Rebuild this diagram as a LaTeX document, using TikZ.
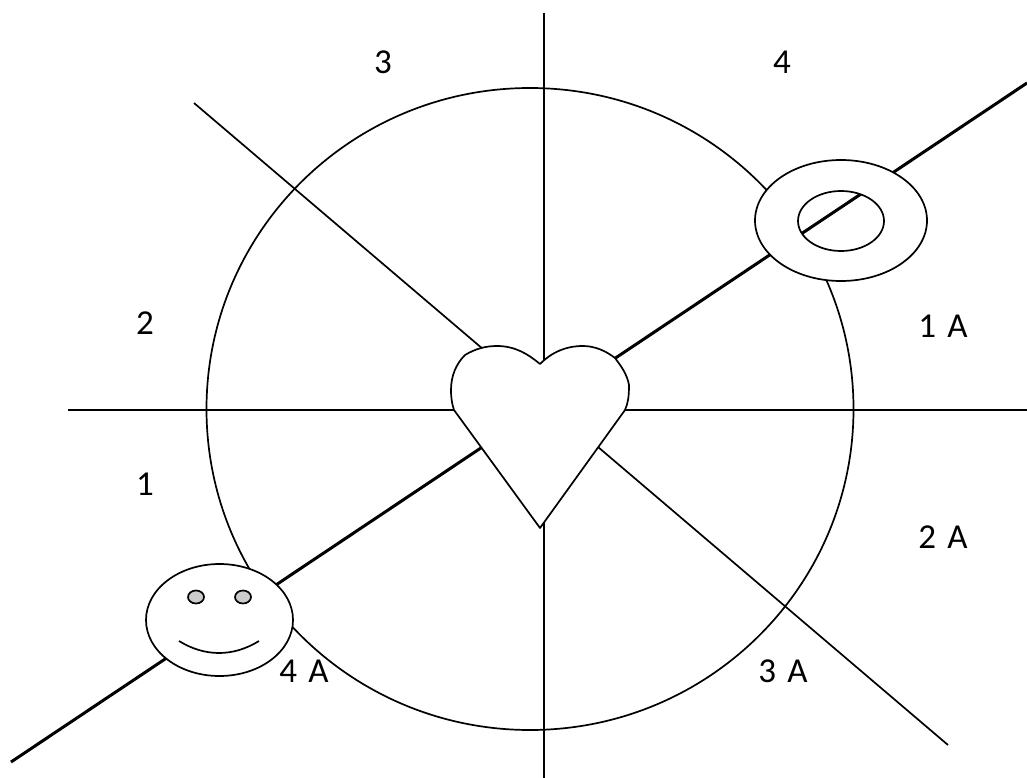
\documentclass[tikz,border=0pt]{standalone}
\usepackage{fontspec}
\setmainfont[WordSpace=1.4]{Carlito}
\tikzset{
  thinline/.style={draw=black,line width=1.7pt},
  thickline/.style={draw=black,line width=3pt},
  shapeline/.style={draw=black,line width=1.7pt,fill=white},
  lbl/.style={inner sep=0pt,font=\fontsize{35}{40}\selectfont,text=black},
}
\begin{document}
\begin{tikzpicture}[x=1pt,y=-1pt]
\useasboundingbox (0,0) rectangle (1027,778);
% free line ends
\coordinate (vtop) at (544,13);
\coordinate (vbot) at (544,778);
\coordinate (hleft) at (68,410);
\coordinate (hright) at (1027,410);
\coordinate (d1a) at (194,103);
\coordinate (d1b) at (948,745);
\coordinate (d2a) at (11,762);
\coordinate (d2b) at (1027,83);
% big circle
\draw[thinline] (530,409) ellipse [x radius=323.5,y radius=321];
% spokes
\draw[thinline] (vtop) -- (vbot);
\draw[thinline] (hleft) -- (hright);
\draw[thinline] (d1a) -- (d1b);
\draw[thickline] (d2a) -- (d2b);
% heart
\draw[shapeline,line join=round] (540,364)
  .. controls (528,354) and (515,346) .. (497,346)
  .. controls (485,346) and (475,349) .. (465,355)
  .. controls (456,364) and (451,376) .. (451,390)
  .. controls (451,398) and (452,404) .. (454,410)
  -- (540,528) -- (625,410)
  .. controls (628,403) and (629,397) .. (629,385)
  .. controls (627,374) and (621,366) .. (615,358)
  .. controls (606,351) and (595,346) .. (583,346)
  .. controls (566,346) and (552,352) .. (540,364) -- cycle;
% smiley
\draw[shapeline] (219.5,620) ellipse [x radius=73.5,y radius=56];
\draw[draw=black,line width=1.7pt,fill=black!20] (196,597) ellipse [x radius=8,y radius=6.5];
\draw[draw=black,line width=1.7pt,fill=black!20] (243,597) ellipse [x radius=8,y radius=6.5];
\draw[thinline] (179,641) .. controls (205,657) and (233,657) .. (259,641);
% ring
\draw[shapeline,even odd rule] (841,220.5) ellipse [x radius=86,y radius=60.5] (841,221) ellipse [x radius=43,y radius=30];
% labels
\node[lbl] (n3) at (383,62) {3};
\node[lbl] (n4) at (782,62) {4};
\node[lbl] (n2) at (145,323) {2};
\node[lbl] (n1) at (145,484) {1};
\node[lbl] (a1) at (943,326) {1 A};
\node[lbl] (a2) at (943,537) {2 A};
\node[lbl] (a3) at (783,671) {3 A};
\node[lbl] (a4) at (304,671) {4 A};
\end{tikzpicture}
\end{document}
